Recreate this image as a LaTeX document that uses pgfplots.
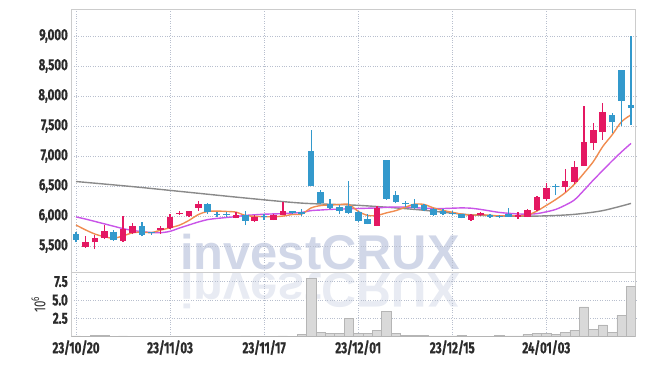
\documentclass[border=0pt]{standalone}
\usepackage{fontspec}
\setmainfont{Fira Sans}[FakeStretch=0.74]
\newfontfamily\tickfont{Fira Sans}[FakeStretch=0.72, BoldFeatures={FakeStretch=0.72, FakeBold=0.6}]
\newfontfamily\wmfont{Liberation Sans}
\usepackage{pgfplots}
\usepackage{pgfplotstable}
\pgfplotsset{compat=1.18}

\definecolor{upc}{HTML}{E41862}
\definecolor{dnc}{HTML}{3399CC}
\definecolor{ma5c}{HTML}{F08C50}
\definecolor{ma20c}{HTML}{C955E8}
\definecolor{ma60c}{HTML}{8A8A8A}
\definecolor{volfill}{HTML}{D9D9D9}
\definecolor{voledge}{HTML}{B5B5B5}
\definecolor{framec}{HTML}{CCCCCC}
\definecolor{gridc}{HTML}{B8BFCE}
\definecolor{labc}{HTML}{2B2B2B}
\definecolor{wm}{HTML}{D1D7E8}
\definecolor{wm2}{HTML}{E8EBF3}

% up (red) candles: index, open, high, low, close
\pgfplotstableread{
i O H L C
1 5480 5670 5470 5570
2 5560 5680 5450 5630
3 5630 5850 5620 5750
5 5580 6000 5570 5790
6 5710 5880 5700 5830
9 5770 5840 5700 5800
10 5800 6040 5790 5990
11 6030 6080 6020 6050
12 6000 6090 5990 6080
13 6140 6250 6090 6200
17 5975 6060 5960 6025
19 5925 6010 5900 5990
21 5935 6030 5930 6015
22 6020 6240 6010 6080
32 5840 6170 5830 6130
42 5935 6040 5920 6015
43 6010 6070 6000 6050
47 5980 6070 5955 6015
48 5990 6110 5980 6100
49 6100 6330 6090 6320
50 6280 6550 6250 6460
52 6480 6780 6400 6580
53 6570 6920 6540 6820
54 6840 7840 6830 7230
55 7210 7550 7100 7430
56 7400 7880 7270 7730
}\uptab

% down (blue) candles
\pgfplotstableread{
i O H L C
0 5700 5730 5560 5600
4 5740 5760 5590 5600
7 5830 5900 5660 5690
8 5730 5740 5690 5710
14 6200 6210 6040 6060
15 6040 6060 5990 6020
16 6040 6070 5990 6020
18 6020 6090 5850 5920
20 6005 6040 5930 5990
23 6080 6090 6030 6050
24 6070 6110 6000 6030
25 7080 7430 6500 6500
26 6400 6430 6200 6210
27 6200 6280 6110 6130
28 6150 6190 6030 6080
29 6160 6580 6040 6050
30 6070 6080 5900 5920
31 5950 6040 5860 5870
33 6930 6930 6270 6290
34 6350 6420 6210 6240
35 6220 6250 6150 6200
36 6200 6280 6120 6130
37 6180 6200 6080 6100
38 6110 6130 6000 6010
39 6090 6110 6010 6030
40 6055 6080 6010 6040
41 6030 6040 5960 5975
44 6015 6030 5965 5980
45 6005 6020 5960 5990
46 6030 6140 5980 5990
51 6500 6530 6350 6480
57 7680 7710 7390 7560
58 8430 8430 7500 7910
59 7850 9000 7520 7800
}\dntab

\pgfplotsset{
  panel/.style={
    scale only axis, width=564.4bp,
    xmin=-0.5, xmax=59.5,
    axis line style={draw=framec, line width=0.8bp},
    grid=major,
    major grid style={draw=gridc, dotted, line width=0.7bp},
    major tick length=0pt,
    tick label style={font=\tickfont\bfseries\fontsize{16}{18}\selectfont, text=labc},
    xtick={0,10,20,30,40,50},
    /pgf/number format/assume math mode=true,
  },
}

\begin{document}
\begin{tikzpicture}
\useasboundingbox (0,0) rectangle (645bp,366bp);

% watermark and its reflection
\node[anchor=base, text=wm, inner sep=0pt, font=\wmfont\bfseries\fontsize{49}{50}\selectfont] at (320bp,96bp) {investCRUX};
\begin{scope}[shift={(320bp,92bp)}, yscale=-1]
  \node[anchor=base, text=wm2, inner sep=0pt, transform shape, font=\wmfont\bfseries\fontsize{49}{50}\selectfont] at (0,0) {investCRUX};
\end{scope}

% price panel
\begin{axis}[panel,
  at={(71.3bp,93.7bp)}, anchor=south west,
  height=263.3bp,
  ymin=5062, ymax=9450,
  ytick={5500,6000,6500,7000,7500,8000,8500,9000},
  scaled y ticks=false,
  yticklabel style={/pgf/number format/.cd, fixed, 1000 sep={,}},
  xticklabels={},
]
  % moving averages
  \addplot[ma60c, line width=1.4bp, smooth] coordinates {
    (0,6575) (6,6490) (12,6395) (18,6300) (24,6215) (30,6178) (36,6110)
    (42,6020) (47,5998) (50,6003) (53,6028) (56,6090) (59,6210)};
  \addplot[ma20c, line width=1.4bp, smooth] coordinates {
    (0,5985) (1,5950) (2,5910) (3,5870) (4,5830) (5,5790) (6,5760) (7,5740)
    (8,5725) (9,5722) (10,5745) (11,5800) (12,5850) (13,5900) (14,5940)
    (15,5960) (16,5975) (17,5990) (18,6010) (19,6020) (20,6030) (21,6035)
    (22,6040) (23,6050) (24,6060) (25,6090) (26,6100) (27,6110) (28,6115)
    (29,6120) (30,6125) (31,6130) (32,6135) (33,6145) (34,6150) (35,6150)
    (36,6140) (37,6130) (38,6125) (39,6125) (40,6130) (41,6135) (42,6130)
    (43,6110) (44,6085) (45,6060) (46,6045) (47,6035) (48,6030) (49,6040)
    (50,6070) (51,6110) (52,6180) (53,6270) (54,6430) (55,6600) (56,6760)
    (57,6920) (58,7070) (59,7210)};
  \addplot[ma5c, line width=1.4bp, smooth] coordinates {
    (0,5850) (1,5770) (2,5700) (3,5655) (4,5630) (5,5668) (6,5720) (7,5732)
    (8,5724) (9,5764) (10,5804) (11,5848) (12,5926) (13,6024) (14,6076)
    (15,6082) (16,6076) (17,6065) (18,6009) (19,5995) (20,5989) (21,5988)
    (22,5999) (23,6025) (24,6033) (25,6135) (26,6174) (27,6184) (28,6190)
    (29,6194) (30,6078) (31,6010) (32,6010) (33,6052) (34,6090) (35,6146)
    (36,6198) (37,6192) (38,6136) (39,6094) (40,6062) (41,6031) (42,6014)
    (43,6022) (44,6012) (45,6002) (46,6005) (47,6005) (48,6015) (49,6083)
    (50,6177) (51,6275) (52,6388) (53,6532) (54,6714) (55,6908) (56,7158)
    (57,7354) (58,7572) (59,7686)};
  % wicks
  \addplot[upc, line width=1.3bp, -, quiver={u=0, v=\thisrow{H}-\thisrow{L}}] table[x=i, y=L] {\uptab};
  \addplot[dnc, line width=1.3bp, -, quiver={u=0, v=\thisrow{H}-\thisrow{L}}] table[x=i, y=L] {\dntab};
  % bodies
  \addplot[upc, line width=6.6bp, -, quiver={u=0, v=\thisrow{C}-\thisrow{O}}] table[x=i, y=O] {\uptab};
  \addplot[dnc, line width=6.6bp, -, quiver={u=0, v=\thisrow{C}-\thisrow{O}}] table[x=i, y=O] {\dntab};
\end{axis}

% volume panel
\begin{axis}[panel,
  at={(71.3bp,29.3bp)}, anchor=south west,
  height=64.4bp,
  ymin=0, ymax=8.77,
  ytick={2.5,5,7.5},
  yticklabels={2.5,5.0,7.5},
  xticklabels={23/10/20,23/11/03,23/11/17,23/12/01,23/12/15,24/01/03},
  ylabel={10\textsuperscript{6}},
  ylabel style={font=\tickfont\fontsize{16}{18}\selectfont, text=labc},
]
  \addplot[ybar, bar width=1, fill=volfill, draw=voledge, line width=0.6bp] coordinates {
    (0,0.12) (1,0.05) (2,0.15) (3,0.15) (4,0.05) (5,0.12) (6,0.05) (7,0.05)
    (8,0.03) (9,0.03) (10,0.05) (11,0.03) (12,0.03) (13,0.03) (14,0.05)
    (15,0.03) (16,0.03) (17,0.05) (18,0.10) (19,0.03) (20,0.03) (21,0.05)
    (22,0.12) (23,0.08) (24,0.30) (25,7.90) (26,0.60) (27,0.50) (28,0.40)
    (29,2.50) (30,0.50) (31,0.40) (32,0.90) (33,3.40) (34,0.45) (35,0.20)
    (36,0.20) (37,0.20) (38,0.10) (39,0.10) (40,0.10) (41,0.20) (42,0.08)
    (43,0.08) (44,0.08) (45,0.15) (46,0.10) (47,0.10) (48,0.30) (49,0.45)
    (50,0.40) (51,0.30) (52,0.60) (53,0.90) (54,4.05) (55,1.00) (56,1.60)
    (57,0.60) (58,2.95) (59,6.85)};
\end{axis}
\end{tikzpicture}
\end{document}
